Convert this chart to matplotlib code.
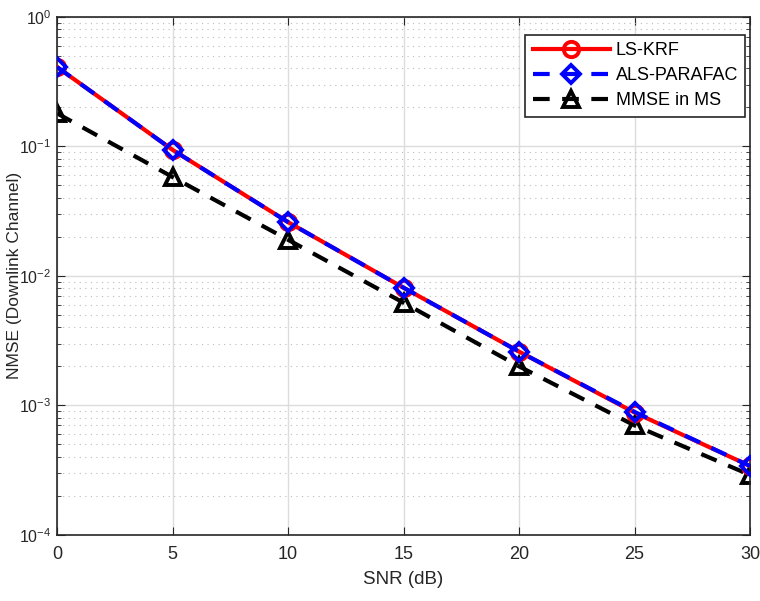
import numpy as np
import matplotlib
matplotlib.use("Agg")
import matplotlib.pyplot as plt
from matplotlib.ticker import LogLocator, NullFormatter

plt.rcParams['font.family'] = ['Liberation Sans', 'DejaVu Sans']
plt.rcParams['mathtext.fontset'] = 'custom'
plt.rcParams['mathtext.rm'] = 'Liberation Sans'
plt.rcParams['mathtext.it'] = 'Liberation Sans:italic'
plt.rcParams['mathtext.bf'] = 'Liberation Sans:bold'

# data
snr = [0, 5, 10, 15, 20, 25, 30]
nmse_lskrf = [0.41, 0.094, 0.026, 0.0081, 0.0026, 0.00088, 0.00034]
nmse_als = [0.41, 0.094, 0.026, 0.0081, 0.0026, 0.00089, 0.00034]
nmse_mmse = [0.18, 0.058, 0.019, 0.0062, 0.0020, 0.00070, 0.00029]

fig = plt.figure(figsize=(7.6, 6.01), dpi=100)
ax = fig.add_axes([0.075, 0.11, 0.912, 0.862])

ax.semilogy(snr, nmse_lskrf, '-o', color='red', lw=3, ms=11,
            mfc='none', mec='red', mew=2.8, label='LS-KRF', zorder=3)
ax.semilogy(snr, nmse_als, '--D', color='blue', lw=3, ms=9,
            mfc='none', mec='blue', mew=2.8, dashes=(4, 3),
            label='ALS-PARAFAC', zorder=4)
ax.semilogy(snr, nmse_mmse, '--^', color='black', lw=3, ms=12,
            mfc='none', mec='black', mew=2.8, dashes=(4, 3),
            label='MMSE in MS', zorder=2)

ax.set_xlim(0, 30)
ax.set_ylim(1e-4, 1e0)
ax.set_xticks(snr)
ax.yaxis.set_major_locator(LogLocator(base=10, numticks=10))
ax.yaxis.set_minor_locator(LogLocator(base=10, subs=np.arange(2, 10), numticks=20))
ax.yaxis.set_minor_formatter(NullFormatter())

ax.grid(True, which='major', color='#dcdcdc', lw=1, ls='-')
ax.grid(True, which='minor', axis='y', color='#bbbbbb', lw=0.8, ls=(0, (1, 4)))
ax.set_axisbelow(True)

ax.tick_params(which='both', direction='in', top=True, right=True,
               labelsize=13, colors='#262626')
ax.tick_params(axis='x', pad=8)
ax.tick_params(axis='y', labelsize=11.5, pad=4)
ax.tick_params(which='major', length=6)
ax.tick_params(which='minor', length=3)
for s in ax.spines.values():
    s.set_color('#262626')
    s.set_linewidth(1.2)

ax.set_xlabel('SNR (dB)', fontsize=13.5, color='#262626', labelpad=6)
ax.set_ylabel('NMSE (Downlink Channel)', fontsize=12.5, color='#262626')
ax.yaxis.set_label_coords(-0.05, 0.5)

leg = ax.legend(loc='upper right', bbox_to_anchor=(0.993, 0.965), fontsize=13,
                fancybox=False, edgecolor='#262626', framealpha=1,
                handlelength=4.3, handletextpad=0.3, borderpad=0.4,
                labelspacing=0.45, borderaxespad=0)
leg.get_frame().set_linewidth(1.2)

fig.savefig('out.png', dpi=100)
